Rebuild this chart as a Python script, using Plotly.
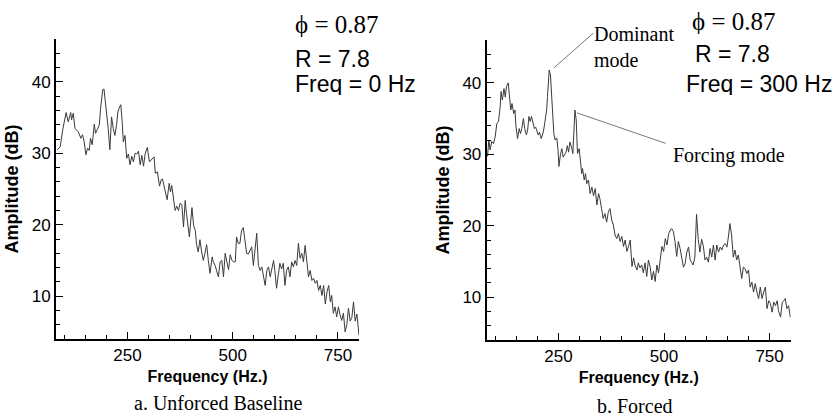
import plotly.graph_objects as go

# ---- data ----
freq_a = [83, 90, 96, 104, 109, 115, 117, 121, 125, 133, 139, 143, 147, 151, 155, 159, 162, 166, 171, 174,
          178, 183, 186, 191, 194, 197, 200, 204, 208, 212, 216, 220, 224, 227, 230, 234, 237, 240, 244, 248,
          252, 256, 260, 264, 268, 272, 276, 280, 284, 288, 292, 297, 302, 310, 313, 316, 321, 326, 330, 333,
          337, 341, 344, 349, 352, 355, 359, 363, 367, 371, 375, 379, 383, 387, 390, 394, 397, 403, 407, 411,
          414, 418, 422, 426, 430, 434, 438, 442, 446, 451, 454, 458, 462, 466, 470, 474, 478, 482, 486, 490,
          494, 498, 502, 506, 509, 513, 517, 521, 525, 529, 533, 537, 541, 545, 549, 553, 557, 561, 565, 569,
          573, 577, 581, 585, 589, 593, 597, 600, 604, 608, 612, 616, 620, 624, 628, 632, 636, 640, 644, 648,
          652, 656, 660, 664, 668, 672, 676, 680, 684, 688, 692, 696, 700, 704, 708, 712, 716, 720, 724, 728,
          732, 735, 739, 743, 747, 751, 755, 759, 763, 767, 771, 775, 779, 783, 787, 791, 795, 798, 800]
amp_a = [30.5, 30.9, 33.3, 35.7, 34.4, 35.7, 34.7, 35.6, 33.5, 33.0, 32.1, 32.6, 31.6, 29.8, 30.7, 30.4, 32.1, 31.2, 34.1, 32.8,
         33.3, 34.0, 36.3, 38.9, 39.0, 37.5, 35.6, 33.5, 30.5, 35.1, 33.5, 32.5, 34.0, 35.8, 36.3, 36.8, 34.6, 31.6, 32.5, 29.3,
         29.9, 28.4, 29.6, 28.8, 30.0, 29.9, 30.3, 28.4, 29.7, 28.2, 30.0, 30.8, 28.8, 29.3, 29.5, 27.2, 27.4, 25.4, 26.3, 26.4,
         25.3, 24.6, 23.5, 25.8, 24.6, 25.5, 23.9, 22.0, 22.6, 22.0, 23.0, 22.8, 19.7, 23.4, 21.6, 19.2, 18.3, 22.4, 19.9, 19.2,
         17.2, 16.2, 17.9, 16.2, 15.0, 16.0, 17.2, 15.0, 13.2, 15.5, 14.8, 14.3, 13.4, 12.7, 14.8, 15.0, 12.7, 16.0, 14.8, 13.7,
         15.8, 15.0, 14.8, 14.8, 18.3, 17.4, 17.4, 19.2, 19.6, 17.9, 16.0, 15.9, 16.4, 16.9, 14.3, 16.4, 18.8, 14.3, 13.6, 14.1,
         12.7, 11.5, 13.6, 14.1, 12.7, 13.8, 15.0, 13.6, 11.1, 12.9, 14.6, 13.8, 14.6, 11.5, 13.6, 14.1, 12.7, 14.8, 14.1, 15.0,
         14.3, 17.4, 15.3, 16.0, 14.8, 17.1, 15.0, 12.7, 13.6, 12.2, 12.5, 11.8, 12.2, 10.8, 11.5, 10.1, 11.5, 8.9, 10.6, 11.5,
         9.2, 10.1, 7.6, 8.5, 7.1, 8.5, 7.4, 6.6, 7.6, 5.0, 6.0, 8.3, 6.5, 7.0, 9.2, 6.5, 7.5, 6.0, 4.5]

freq_b = [82, 85, 88, 92, 96, 100, 104, 108, 112, 114, 117, 121, 124, 127, 131, 134, 137, 140, 144, 147,
          149, 153, 157, 160, 163, 167, 170, 174, 177, 180, 183, 186, 189, 193, 196, 199, 202, 205, 209, 212,
          215, 218, 222, 224, 226, 228, 231, 233, 236, 239, 242, 246, 249, 251, 255, 258, 261, 265, 268, 271,
          274, 277, 281, 284, 287, 289, 292, 295, 299, 301, 305, 307, 311, 314, 317, 321, 325, 329, 333, 337,
          341, 345, 348, 352, 356, 360, 364, 368, 372, 376, 380, 384, 388, 392, 396, 400, 404, 408, 412, 416,
          420, 424, 428, 431, 436, 439, 443, 447, 451, 455, 459, 463, 467, 471, 475, 479, 483, 487, 491, 495,
          499, 503, 507, 511, 515, 518, 522, 526, 530, 534, 538, 542, 546, 550, 554, 558, 562, 565, 569, 573,
          577, 581, 585, 589, 593, 597, 601, 605, 609, 613, 617, 621, 625, 629, 633, 637, 641, 645, 649, 653,
          656, 660, 664, 668, 672, 676, 680, 684, 688, 692, 696, 700, 704, 708, 712, 716, 720, 724, 728, 732,
          736, 740, 744, 748, 752, 756, 760, 764, 768, 771, 776, 780, 784, 787, 791, 795, 799]
amp_b = [29.7, 32.0, 30.6, 31.8, 31.5, 32.4, 34.3, 34.6, 36.7, 38.8, 37.6, 39.2, 38.0, 39.5, 40.0, 38.0, 36.2, 37.1, 35.7, 36.2,
         34.1, 32.2, 33.6, 32.9, 33.6, 35.0, 33.6, 32.7, 33.4, 35.3, 34.6, 35.3, 34.6, 33.6, 33.8, 33.1, 32.7, 33.1, 32.2, 32.7,
         33.4, 34.6, 36.2, 38.1, 40.4, 41.8, 41.1, 38.5, 35.3, 32.9, 32.0, 32.3, 30.6, 28.3, 30.1, 30.8, 29.6, 30.1, 30.3, 31.2,
         30.3, 31.7, 31.0, 30.1, 33.4, 36.2, 34.8, 30.1, 30.8, 29.2, 27.3, 28.0, 26.4, 27.3, 25.9, 26.4, 24.5, 25.4, 24.2, 25.2,
         22.9, 24.5, 23.8, 22.4, 21.0, 21.7, 20.5, 21.9, 22.4, 20.8, 20.1, 18.7, 18.2, 18.9, 17.8, 18.5, 17.1, 18.0, 16.4, 17.1,
         18.0, 14.3, 15.5, 14.5, 13.8, 14.8, 14.1, 14.5, 13.4, 14.8, 12.9, 15.2, 14.3, 12.4, 13.6, 12.2, 14.5, 13.4, 15.2, 17.1,
         16.4, 18.2, 17.3, 18.9, 19.4, 19.6, 19.2, 17.8, 15.7, 17.8, 16.8, 15.6, 14.2, 14.7, 16.3, 17.0, 15.2, 14.9, 14.5, 15.6,
         21.6, 18.1, 16.3, 18.1, 17.2, 15.2, 15.6, 14.9, 16.8, 15.6, 17.3, 15.2, 17.3, 16.3, 17.0, 16.6, 17.3, 17.5, 17.0, 18.7,
         20.3, 18.7, 15.6, 16.6, 15.2, 15.9, 13.8, 12.6, 14.2, 14.0, 13.3, 13.8, 11.4, 12.1, 10.7, 11.9, 10.7, 9.8, 11.4, 9.8,
         10.7, 11.4, 8.4, 9.5, 9.1, 7.9, 9.3, 8.8, 9.5, 8.1, 7.2, 9.3, 9.5, 9.8, 8.4, 8.8, 7.2]

x_ticks = [250, 500, 750]
y_ticks = [10, 20, 30, 40]
x_range = [80, 800]
y_range = [4, 46]

dominant_peak = (239, 42.1)
forcing_peak = (294, 35.8)

SANS = "Liberation Sans, Arial, sans-serif"
SERIF = "Liberation Serif, Times New Roman, serif"
W, H = 835, 417

fig = go.Figure()
fig.add_trace(go.Scatter(x=freq_a, y=amp_a, mode="lines", line=dict(color="#3a3a3a", width=1),
                         xaxis="x", yaxis="y", showlegend=False, hoverinfo="skip"))
fig.add_trace(go.Scatter(x=freq_b, y=amp_b, mode="lines", line=dict(color="#3a3a3a", width=1),
                         xaxis="x2", yaxis="y2", showlegend=False, hoverinfo="skip"))


def xax(domain, anchor):
    return dict(domain=domain, anchor=anchor, range=x_range, tickvals=x_ticks,
                ticks="inside", ticklen=7, tickwidth=1, tickcolor="black",
                showline=True, linewidth=2, linecolor="black", showgrid=False, zeroline=False,
                minor=dict(tickvals=list(range(100, 800, 50)), ticks="inside", ticklen=4,
                           tickwidth=1, tickcolor="black", showgrid=False),
                tickfont=dict(family=SANS, size=17, color="black"),
                title=dict(text="<b>Frequency (Hz.)</b>", standoff=6,
                           font=dict(family=SANS, size=16, color="black")))


def yax(domain, anchor):
    return dict(domain=domain, anchor=anchor, range=y_range, tickvals=y_ticks,
                ticks="inside", ticklen=7, tickwidth=1, tickcolor="black",
                showline=True, linewidth=2, linecolor="black", showgrid=False, zeroline=False,
                minor=dict(tickvals=list(range(6, 46, 2)), ticks="inside", ticklen=4,
                           tickwidth=1, tickcolor="black", showgrid=False),
                tickfont=dict(family=SANS, size=17, color="black"),
                title=dict(text="<b>Amplitude (dB)</b>", standoff=8,
                           font=dict(family=SANS, size=18, color="black")))


def px(x, y, text, size, family, xanchor="left", yanchor="middle", height=None):
    d = dict(x=x / W, y=1 - y / H, xref="paper", yref="paper", text=text, showarrow=False,
             xanchor=xanchor, yanchor=yanchor, align="left",
             font=dict(family=family, size=size, color="black"))
    if height is not None:
        d["height"] = height
    return d


annotations = [
    px(293, 24, "\u03d5 = 0.87", 25, SERIF, height=26),
    px(293, 58, "R = 7.8", 23, SANS, height=23),
    px(293, 83, "Freq = 0 Hz", 23, SANS, height=23),
    px(690, 21, "\u03d5 = 0.87", 25, SERIF, height=26),
    px(693, 54, "R = 7.8", 23, SANS, height=23),
    px(684, 83, "Freq = 300 Hz", 23, SANS, height=23),
    px(592, 47, "Dominant<br>mode", 20, SERIF),
    px(671, 155, "Forcing mode", 20, SERIF),
    px(218, 403, "a. Unforced Baseline", 20, SERIF, xanchor="center"),
    px(635, 406, "b. Forced", 20, SERIF, xanchor="center"),
    dict(x=dominant_peak[0], y=dominant_peak[1], xref="x2", yref="y2", text="", showarrow=True,
         arrowhead=0, arrowwidth=0.8, arrowcolor="#555", ax=41, ay=-36),
    dict(x=forcing_peak[0], y=forcing_peak[1], xref="x2", yref="y2", text="", showarrow=True,
         arrowhead=0, arrowwidth=0.8, arrowcolor="#555", ax=90, ay=31),
]

fig.update_layout(
    width=W, height=H, margin=dict(l=0, r=0, t=0, b=0),
    paper_bgcolor="white", plot_bgcolor="white",
    xaxis=xax([56 / W, 359 / W], "y"),
    yaxis=yax([1 - 339 / H, 1 - 39 / H], "x"),
    xaxis2=xax([486.7 / W, 790.7 / W], "y2"),
    yaxis2=yax([1 - 340 / H, 1 - 40 / H], "x2"),
    annotations=annotations,
)

fig.write_html("out.html")
